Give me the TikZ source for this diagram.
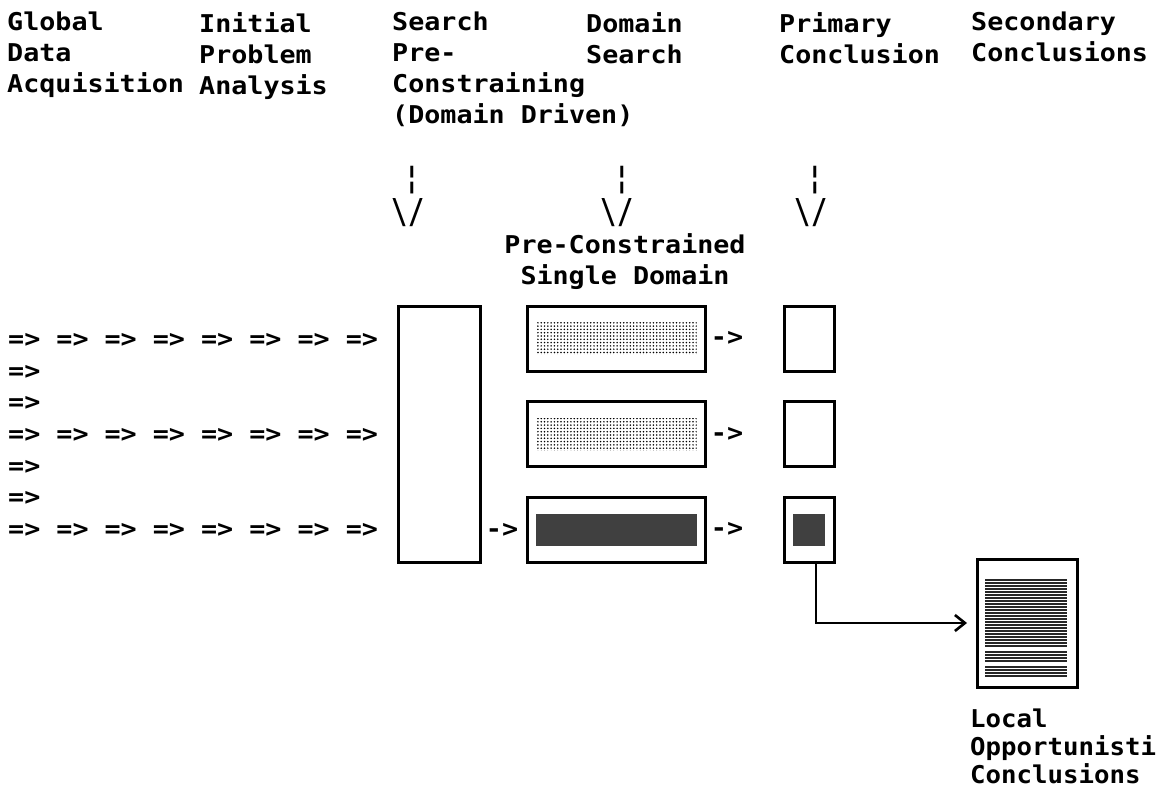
\documentclass[tikz,border=0pt]{standalone}
\usepackage{fontspec}
\usepackage{graphicx}
\usetikzlibrary{arrows.meta,patterns.meta,positioning}
\newfontfamily\termfont[FakeStretch=1.09]{DejaVu Sans Mono}
\newfontfamily\narrowfont[FakeStretch=1.05]{DejaVu Sans Mono}
\newcommand{\fullrow}{=> => => => => => => =>}
\tikzset{
    term/.style={font=\termfont\bfseries\fontsize{24.5}{31}\selectfont, inner sep=0pt, align=left},
    box/.style={draw, line width=3pt, inner sep=0pt, outer sep=0pt},
    lightdots/.style={pattern={Dots[distance=3.3pt, radius=0.85pt]}, inner sep=0pt, minimum width=161pt, minimum height=32pt},
    darkfill/.style={fill=black!75, inner sep=0pt},
    link/.style={line width=2.8pt, -{Straight Barb[length=10pt, width=16pt, line width=2.6pt]}}
}
\begin{document}
\begin{tikzpicture}[x=1pt, y=-1pt]
    \fill[white] (0,0) rectangle (1158,798);
    \useasboundingbox (0,0) rectangle (1158,798);

    % Column headings
    \node[term, anchor=north west] (hglobal) at (7,12) {Global\\Data\\Acquisition};
    \node[term, anchor=north west] (hinitial) at (199,12) {Initial\\Problem\\Analysis};
    \node[term, anchor=north west] (hpre) at (392,12) {Search\\Pre-\\Constraining\\(Domain Driven)};
    \node[term, anchor=north west] (hdomain) at (586,12) {Domain\\Search};
    \node[term, anchor=north west] (hprimary) at (779,12) {Primary\\Conclusion};
    \node[term, anchor=north west] (hsecond) at (971,12) {Secondary\\Conclusions};

    % Dashed down arrows
    \foreach \x/\vx [count=\i] in {412/408, 622/617, 815/811} {
        \node[term] (dash\i) at (\x,180) {\scalebox{1}[1.3]{¦}};
        \node[term] (vee\i) at (\vx,213) {\scalebox{1}[1.4]{\textbackslash/}};
    }
    \node[term, align=center] (single) at (625,262) {Pre-Constrained\\Single Domain};

    % Data flow rows
    \foreach \y/\t [count=\i] in {340/\fullrow, 372/=>, 403/=>, 435/\fullrow, 467/=>, 498/=>, 530/\fullrow}
        \node[term, anchor=west] (row\i) at (8,\y) {\t};

    % Pre-constraining box
    \node[box, minimum width=82pt, minimum height=256pt] (pre) at (439,434) {};
    \node[term] (in3) at (502,530) {->};

    % Domain search boxes
    \foreach \y [count=\i] in {338.5, 434, 529.5} {
        \node[box, minimum width=178pt, minimum height=65pt] (dom\i) at (616,\y) {};
        \node[term] (out\i) at (727,\y) {->};
        \node[box, minimum width=50pt, minimum height=65pt] (prim\i) at (809,\y) {};
    }
    \node[lightdots] (fill1) at (dom1) {};
    \node[lightdots] (fill2) at (dom2) {};
    \node[darkfill, minimum width=161pt, minimum height=32pt] (fill3) at (dom3) {};
    \node[darkfill, minimum width=32pt, minimum height=32pt] (pfill3) at (prim3) {};

    % Local opportunistic conclusions
    \node[box, minimum width=100pt, minimum height=128pt] (doc) at (1027,623) {};
    \foreach \k in {0,...,22}
        \draw[line width=1.5pt, black!85] (985,580+3*\k) -- (1067,580+3*\k);
    \foreach \k in {24,...,27}
        \draw[line width=1.5pt, black!85] (985,580+3*\k) -- (1067,580+3*\k);
    \foreach \k in {29,...,32}
        \draw[line width=1.5pt, black!85] (985,580+3*\k) -- (1067,580+3*\k);
    \draw[link] ([xshift=7pt]prim3.south) |- ([xshift=-10pt]doc.west);

    \node[term, anchor=north west, font=\narrowfont\bfseries\fontsize{24.5}{28}\selectfont] (local) at (970,709) {Local\\Opportunisti\\Conclusions};
\end{tikzpicture}
\end{document}
